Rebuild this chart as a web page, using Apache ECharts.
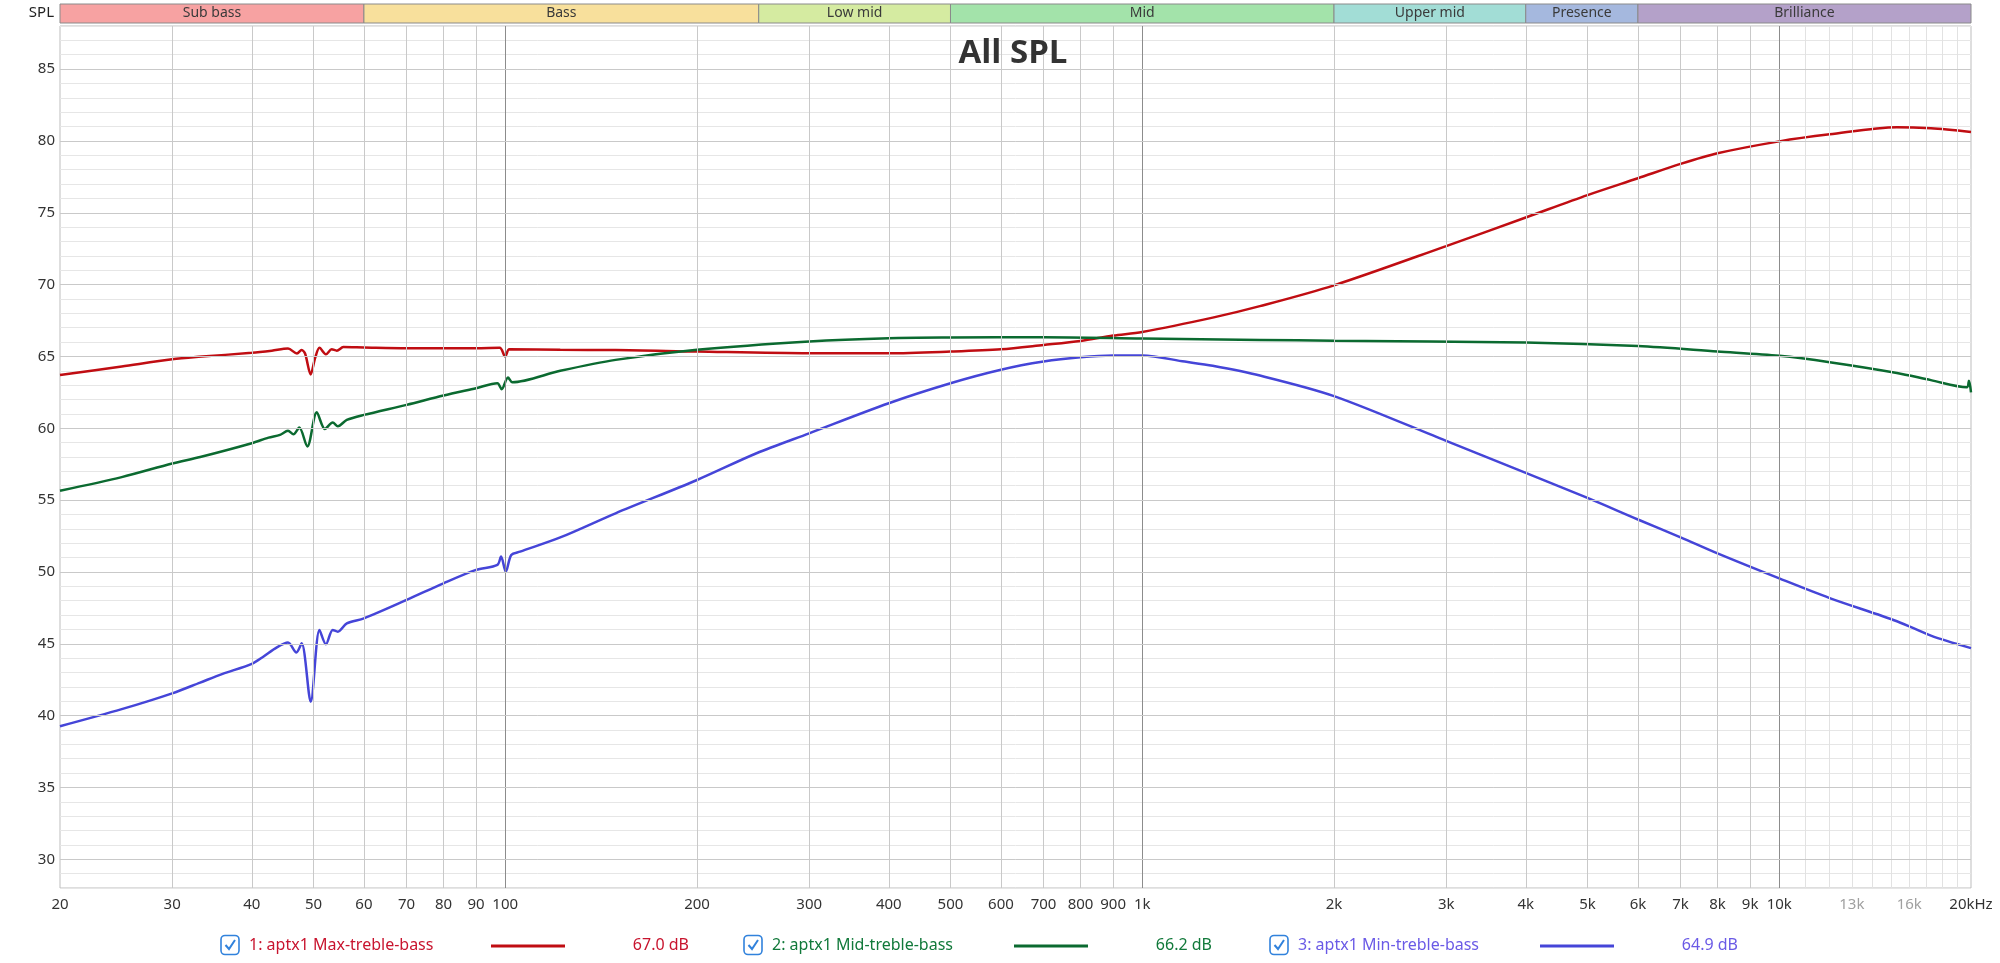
<!DOCTYPE html>
<html>
<head>
<meta charset="utf-8">
<title>All SPL</title>
<script src="https://cdn.jsdelivr.net/npm/echarts@6/dist/echarts.min.js"></script>
<style>
html,body{margin:0;padding:0;background:#fff;}
#chart{width:2000px;height:963px;}
</style>
</head>
<body>
<div id="chart"></div>
<script>
// measured curves (Hz / dB)
var maxFreq = [20,25,30,33,40,43,45.6,47.1,47.9,48.5,49.5,50.3,51.1,52.3,53.4,54.4,55.7,60,70,90,98,100,101.5,122,149,200,300,400,500,600,700,800,900,1000,1290,1530,2000,3000,4000,5000,6000,7000,8000,10000,12000,15300,17300,20000];
var maxSpl  = [63.7,64.3,64.8,64.97,65.25,65.4,65.55,65.2,65.45,65.2,63.75,64.9,65.6,65.15,65.5,65.4,65.65,65.62,65.57,65.57,65.6,65.0,65.5,65.46,65.45,65.34,65.22,65.22,65.34,65.5,65.8,66.08,66.45,66.7,67.7,68.5,69.95,72.68,74.67,76.23,77.4,78.4,79.14,79.97,80.46,80.96,80.88,80.63];

var midFreq = [20,25,30,33.2,40,42.5,44.3,45.6,46.5,47.5,48.9,50.6,52.1,53.6,54.6,56.4,60,70,80,90,97.2,98.7,101,102.6,122,149,200,300,400,500,700,1000,1530,2000,4000,6000,8000,10000,12000,15300,17300,19700,19850,20000];
var midSpl  = [55.65,56.6,57.55,58.0,58.96,59.35,59.54,59.82,59.58,60.05,58.73,61.11,59.95,60.4,60.14,60.58,60.93,61.63,62.28,62.79,63.13,62.72,63.53,63.2,64.0,64.76,65.46,66.04,66.27,66.32,66.34,66.25,66.15,66.09,65.97,65.72,65.34,65.04,64.6,63.85,63.35,62.86,63.3,62.5];

var minFreq = [20,25,30,33.2,36,40,41.7,43.8,45.6,47,47.9,49.5,51.1,52.3,53.6,54.6,56.4,60,70,80,90,97.2,98.5,100.2,102.2,105.5,122,149,200,248,300,400,500,600,700,800,900,1000,1166,1290,1530,2000,3000,4000,5000,6000,7000,8000,10000,12000,15300,17300,20000];
var minSpl  = [39.26,40.45,41.55,42.3,42.9,43.6,44.1,44.75,45.08,44.4,45.03,40.97,45.96,44.96,45.96,45.84,46.42,46.77,48.05,49.21,50.14,50.49,51.07,50.02,51.18,51.41,52.4,54.08,56.4,58.26,59.65,61.74,63.13,64.07,64.64,64.94,65.06,65.06,64.64,64.35,63.67,62.24,59.12,56.89,55.15,53.65,52.41,51.29,49.55,48.18,46.57,45.57,44.7];

var seriesNames  = ['1: aptx1 Max-treble-bass','2: aptx1 Mid-treble-bass','3: aptx1 Min-treble-bass'];
var seriesColors = ['#c00d12','#0b6a30','#4545d8'];
var legendColors = ['#c8142e','#11793a','#6a5ae6'];
var avgLabels    = ['67.0 dB','66.2 dB','64.9 dB'];

// frequency bands across the top
var bandNames  = ['Sub bass','Bass','Low mid','Mid','Upper mid','Presence','Brilliance'];
var bandEdges  = [20,60,250,500,2000,4000,6000,20000];
var bandColors = ['#f7a2a2','#f8e09c','#d5eba1','#a3e3aa','#a2ddd6','#a5b8de','#b4a1c9'];

// grid / ticks
var gridFreqs   = [30,40,50,60,70,80,90,200,300,400,500,600,700,800,900,2000,3000,4000,5000,6000,7000,8000,9000];
var decadeFreqs = [100,1000,10000];
var fineFreqs   = [11000,12000,13000,14000,15000,16000,17000,18000,19000];
var xTickFreqs  = [20,30,40,50,60,70,80,90,100,200,300,400,500,600,700,800,900,1000,2000,3000,4000,5000,6000,7000,8000,9000,10000,13000,16000,20000];
var xTickLabels = ['20','30','40','50','60','70','80','90','100','200','300','400','500','600','700','800','900','1k','2k','3k','4k','5k','6k','7k','8k','9k','10k','13k','16k','20kHz'];
var xGreyLabels = ['13k','16k'];
var yTicks = [30,35,40,45,50,55,60,65,70,75,80,85];

var chart = echarts.init(document.getElementById('chart'));
var font = '"Noto Sans", "DejaVu Sans", sans-serif';

function pairs(fs, vs) {
	return fs.map(function(f, i) { return [f, vs[i]]; });
}

var vLines = [];
gridFreqs.forEach(function(f) { vLines.push({xAxis: f, lineStyle: {color: '#c9c9c9'}}); });
fineFreqs.forEach(function(f) { vLines.push({xAxis: f, lineStyle: {color: '#e2e2e2'}}); });
decadeFreqs.forEach(function(f) { vLines.push({xAxis: f, lineStyle: {color: '#8c8c8c'}}); });
yTicks.forEach(function(v) { vLines.push({yAxis: v, lineStyle: {color: '#c9c9c9'}}); });

var tickMarks = xTickFreqs.map(function(f, i) {
	var lab = xTickLabels[i];
	return {
		xAxis: f,
		lineStyle: {color: 'rgba(255,255,255,0)', width: 0},
		label: {
			show: true,
			position: 'start',
			distance: 9,
			formatter: lab,
			color: xGreyLabels.indexOf(lab) >= 0 ? '#a0a0a0' : '#333',
			fontSize: 15,
			fontFamily: font
		}
	};
});

var bandAreas = bandNames.map(function(n, i) {
	return [
		{name: n, xAxis: bandEdges[i], itemStyle: {color: bandColors[i], borderColor: '#8a8a8a', borderWidth: 1}},
		{xAxis: bandEdges[i + 1]}
	];
});

var legendGraphics = [];
var legendX = [221, 744, 1270];
seriesNames.forEach(function(n, i) {
	var lx = legendX[i];
	legendGraphics.push({
		type: 'rect', shape: {x: lx, y: 935.5, width: 18, height: 19, r: 4},
		style: {fill: '#fff', stroke: '#3182dc', lineWidth: 1.6}
	});
	legendGraphics.push({
		type: 'polyline', shape: {points: [[lx + 4.5, 945], [lx + 8, 949], [lx + 14, 940]]},
		style: {fill: null, stroke: '#3182dc', lineWidth: 2}
	});
	legendGraphics.push({
		type: 'text', x: lx + 28, y: 945,
		style: {text: n, fill: legendColors[i], font: '16px ' + font, verticalAlign: 'middle'}
	});
	legendGraphics.push({
		type: 'line', shape: {x1: lx + 270, y1: 946, x2: lx + 344, y2: 946},
		style: {stroke: seriesColors[i], lineWidth: 3}
	});
	legendGraphics.push({
		type: 'text', x: lx + 468, y: 945,
		style: {text: avgLabels[i], fill: legendColors[i], font: '16px ' + font, align: 'right', verticalAlign: 'middle'}
	});
});

legendGraphics.push({
	type: 'text', x: 1013, y: 54, z: 10,
	style: {text: 'All SPL', fill: '#333', font: 'bold 33px "Open Sans", sans-serif', align: 'center', verticalAlign: 'middle'}
});

var option = {
	animation: false,
	backgroundColor: '#fff',
	graphic: legendGraphics,
	grid: [
		{left: 60, right: 29, top: 26, bottom: 75, show: true, borderColor: '#bdbdbd', borderWidth: 1, backgroundColor: 'transparent'},
		{left: 60, right: 29, top: 4, height: 19, show: false}
	],
	xAxis: [
		{
			type: 'log', logBase: 10, min: 20, max: 20000, gridIndex: 0,
			axisLine: {show: false}, axisTick: {show: false}, axisLabel: {show: false}, splitLine: {show: false}
		},
		{
			type: 'log', logBase: 10, min: 20, max: 20000, gridIndex: 1,
			axisLine: {show: false}, axisTick: {show: false}, axisLabel: {show: false}, splitLine: {show: false}
		}
	],
	yAxis: [
		{
			type: 'value', min: 28, max: 88, interval: 1, gridIndex: 0,
			name: 'SPL', nameLocation: 'end', nameGap: 6,
			nameTextStyle: {color: '#222', fontSize: 15, fontFamily: font, align: 'right', padding: [0, 6, 0, 0]},
			axisLine: {show: false}, axisTick: {show: false},
			axisLabel: {
				margin: 5, color: '#333', fontSize: 15, fontFamily: font,
				formatter: function(v) { return yTicks.indexOf(v) >= 0 ? String(v) : ''; }
			},
			splitLine: {show: true, lineStyle: {color: '#e6e6e6', width: 1}}
		},
		{
			type: 'value', min: 0, max: 1, gridIndex: 1, show: false
		}
	],
	series: [
		{
			name: 'grid', type: 'line', data: [], z: 1, silent: true,
			markLine: {silent: true, symbol: ['none', 'none'], animation: false, label: {show: false},
				lineStyle: {type: 'solid', width: 1}, data: vLines}
		},
		{
			name: 'ticks', type: 'line', data: [], z: 1, silent: true,
			markLine: {silent: true, symbol: ['none', 'none'], animation: false,
				label: {show: true, position: 'start'},
				lineStyle: {type: 'solid', width: 1}, data: tickMarks}
		},
		{
			name: 'bands', type: 'line', data: [], xAxisIndex: 1, yAxisIndex: 1, silent: true,
			markArea: {silent: true, data: bandAreas,
				label: {show: true, position: 'inside', color: '#3a3a3a', fontSize: 14, fontFamily: font}}
		},
		{
			name: seriesNames[0], type: 'line', data: pairs(maxFreq, maxSpl), z: 3,
			showSymbol: false, smooth: 0.3, lineStyle: {color: seriesColors[0], width: 2.5}, itemStyle: {color: seriesColors[0]}
		},
		{
			name: seriesNames[1], type: 'line', data: pairs(midFreq, midSpl), z: 3,
			showSymbol: false, smooth: 0.3, lineStyle: {color: seriesColors[1], width: 2.5}, itemStyle: {color: seriesColors[1]}
		},
		{
			name: seriesNames[2], type: 'line', data: pairs(minFreq, minSpl), z: 3,
			showSymbol: false, smooth: 0.3, lineStyle: {color: seriesColors[2], width: 2.5}, itemStyle: {color: seriesColors[2]}
		}
	]
};

chart.setOption(option);
</script>
</body>
</html>
